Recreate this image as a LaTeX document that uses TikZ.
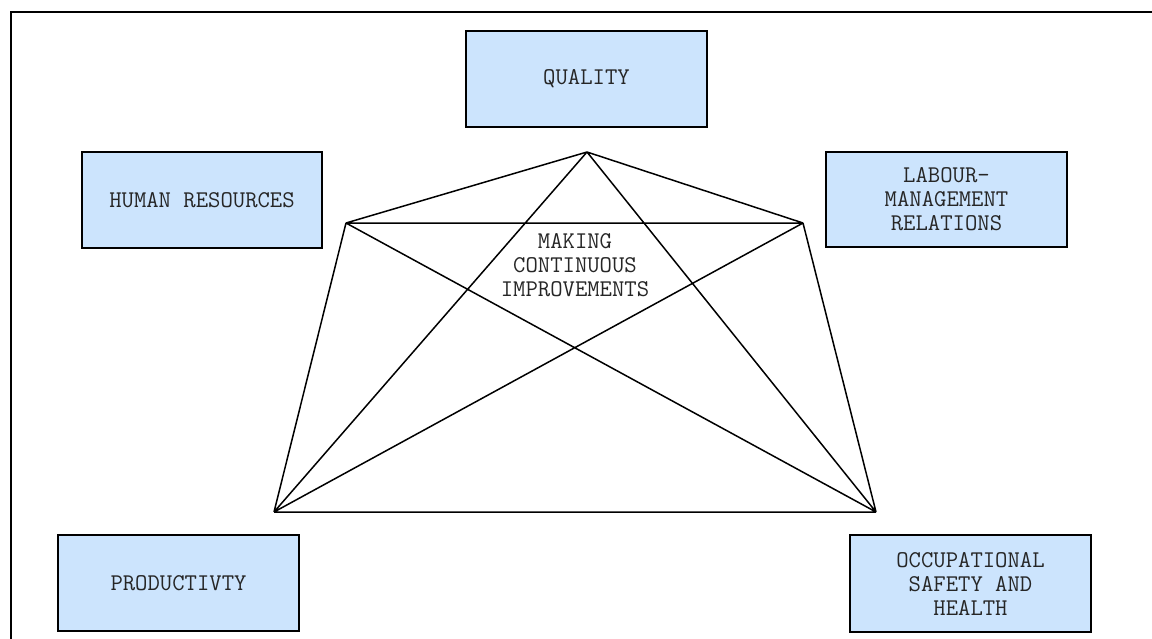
\documentclass[tikz,border=0pt]{standalone}
\usepackage{fontspec}
\begin{document}
\begin{tikzpicture}[x=1pt,y=-1pt,
  lbl/.style={font=\ttfamily\fontsize{24}{24}\selectfont,align=center,text=black!85},
  edge/.style={line width=1.5pt,line join=miter}]
\definecolor{boxblue}{HTML}{CCE4FD}
\tikzset{box/.style={draw=black,line width=1.6pt,fill=boxblue,inner sep=0pt}}
\useasboundingbox (0,0) rectangle (1152,638);
% frame
\draw[line width=2.2pt] (11,660) -- (11,12) -- (1170,12);
% boxes
\node[box,minimum width=241pt,minimum height=96pt] (q) at (586.5,79) {};
\node[box,minimum width=240pt,minimum height=96pt] (hr) at (202,200) {};
\node[box,minimum width=241pt,minimum height=95pt] (lm) at (946.5,199.5) {};
\node[box,minimum width=241pt,minimum height=96pt] (pr) at (178.5,583) {};
\node[box,minimum width=241pt,minimum height=97pt] (os) at (970.5,583.5) {};
\node[lbl] (qt) at (q) {QUALITY};
\node[lbl] (hrt) at (hr) {HUMAN RESOURCES};
\node[lbl] (lmt) at (lm) {LABOUR-\\MANAGEMENT\\RELATIONS};
\node[lbl] (prt) at (pr) {PRODUCTIVTY};
\node[lbl] (ost) at (os) {OCCUPATIONAL\\SAFETY AND\\HEALTH};
% pentagon vertices
\coordinate (T) at (587,152);
\coordinate (L) at (346,223);
\coordinate (R) at (803,223);
\coordinate (BL) at (274,512);
\coordinate (BR) at (876,512);
\draw[edge] (T) -- (L) (T) -- (R) (L) -- (R) (L) -- (BL) (R) -- (BR) (BL) -- (BR)
  (T) -- (BL) (T) -- (BR) (L) -- (BR) (R) -- (BL);
\node[lbl] (mc) at (575,265) {MAKING\\CONTINUOUS\\IMPROVEMENTS};
\end{tikzpicture}
\end{document}
